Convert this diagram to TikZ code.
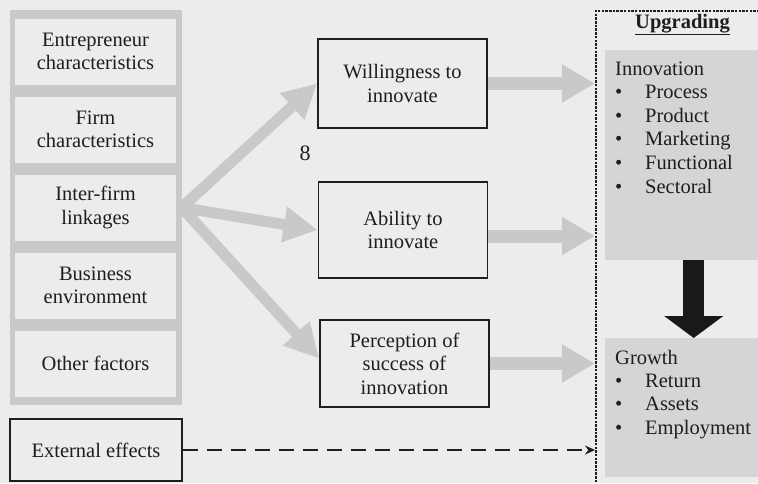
\documentclass[tikz,border=0pt]{standalone}
\usepackage{fontspec}
\setmainfont{Liberation Serif}
\usetikzlibrary{arrows.meta}

\definecolor{paper}{RGB}{236,236,236}
\definecolor{frame}{RGB}{201,201,201}
\definecolor{shade}{RGB}{213,213,213}
\definecolor{ink}{RGB}{30,30,30}

\begin{document}
\begin{tikzpicture}[x=1pt,y=-1pt,
  every node/.style={font=\fontsize{20.5}{23.5}\selectfont, text=ink},
  cell/.style={fill=paper, align=center, minimum width=160pt, minimum height=66pt},
  box/.style={draw=ink, line width=1.8pt, fill=paper, align=center, minimum width=169pt},
  item/.style={anchor=base west, inner sep=0pt},
  thin/.style={draw=frame, line width=11pt, -{Triangle[length=34pt,width=34pt]}},
  wide/.style={draw=frame, line width=13pt, -{Triangle[length=33pt,width=36pt]}}]

  \useasboundingbox (0,0) rectangle (758,483);
  \fill[paper] (0,0) rectangle (758,483);

  \matrix (fa) at (95.5,207.5) [fill=frame, inner xsep=6pt, inner ysep=8.5pt, row sep=12pt]{
    \node[cell] (en) {Entrepreneur\\characteristics};\\
    \node[cell] (fi) {Firm\\characteristics};\\
    \node[cell] (il) {Inter-firm\\linkages};\\
    \node[cell] (be) {Business\\environment};\\
    \node[cell] (of) {Other factors};\\
  };

  \node[box, minimum height=89pt] (wi) at (402.5,83.5) {Willingness to\\innovate};
  \node[box, minimum height=96pt] (ab) at (403,230) {Ability to\\innovate};
  \node[box, minimum height=87pt] (pe) at (404.5,363.5) {Perception of\\success of\\innovation};
  \node[box, minimum width=172pt, minimum height=62pt] (ee) at (96,450) {External effects};

  \node[font=\fontsize{22}{22}\selectfont, inner sep=0pt] (st) at (305,153) {8};

  % upgrading panel
  \node[draw=ink, line width=1.6pt, dash pattern=on 2.5pt off 1.2pt, inner sep=0pt,
    minimum width=200pt, minimum height=500pt, anchor=north west] (up) at (595,10) {};
  \node[font=\fontsize{20.5}{23.5}\selectfont\bfseries, anchor=base] (ug) at (682.5,28) {\underline{Upgrading}};
  \node[fill=shade, inner sep=0pt, minimum width=177pt, minimum height=210pt, anchor=north west] (in) at (605,50) {};
  \node[fill=shade, inner sep=0pt, minimum width=177pt, minimum height=139pt, anchor=north west] (gr) at (605,338) {};

  \node[item] (in-t) at (615,75) {Innovation};
  \foreach \w [count=\i] in {Process,Product,Marketing,Functional,Sectoral}{
    \node[item] (in-b\i) at (615,75+23.6*\i) {•};
    \node[item] (in-\i) at (645,75+23.6*\i) {\w};
  }
  \node[item] (gr-t) at (615,364) {Growth};
  \foreach \w [count=\i] in {Return,Assets,Employment}{
    \node[item] (gr-b\i) at (615,364+23.4*\i) {•};
    \node[item] (gr-\i) at (645,364+23.4*\i) {\w};
  }

  \draw[draw=black!90, line width=21pt, -{Triangle[length=22pt,width=58pt]}] (in.south) -- (gr.north);

  % fan out of the linkages
  \draw[thin] (il.east -| fa.east) -- (wi.west);
  \draw[thin] (il.east -| fa.east) -- (ab.west);
  \draw[thin] (il.east -| fa.east) -- ([yshift=5pt]pe.west);

  \draw[wide] (wi.east) -- (wi.east -| up.west);
  \draw[wide] ([yshift=-6pt]ab.east) -- ([yshift=-6pt]ab.east -| up.west);
  \draw[wide] (pe.east) -- (pe.east -| up.west);

  \draw[ink, line width=2pt, dash pattern=on 15pt off 9pt, -{Stealth[length=10pt,width=9pt]}]
    (ee.east) -- (ee.east -| up.west);

\end{tikzpicture}
\end{document}
